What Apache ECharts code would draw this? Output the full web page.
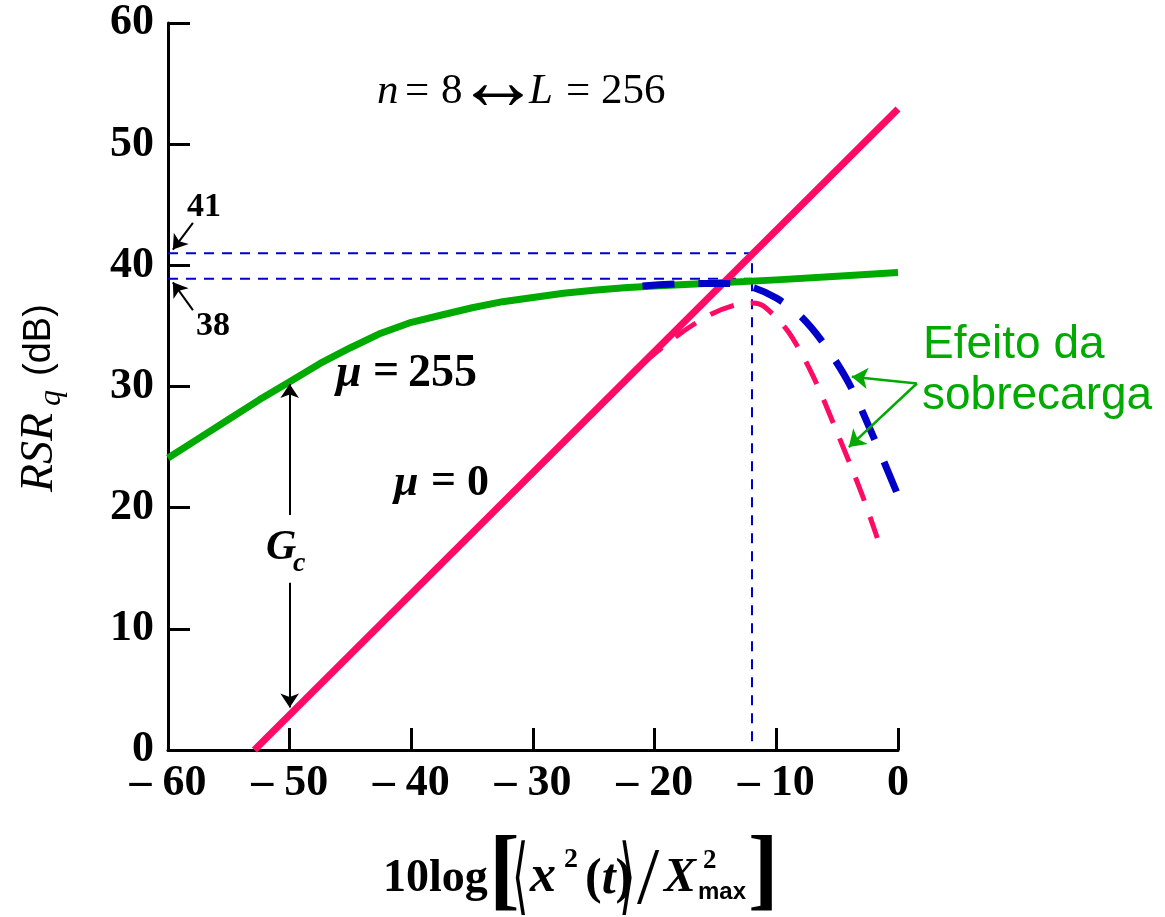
<!DOCTYPE html>
<html><head><meta charset="utf-8">
<script src="https://cdn.jsdelivr.net/npm/echarts@6/dist/echarts.min.js"></script>
<style>html,body{margin:0;padding:0;background:#fff}#c{width:1165px;height:917px}</style>
</head><body><div id="c"></div>
<script>
// ---- data ----
const xTicks = [-60, -50, -40, -30, -20, -10, 0];
const xTickLabels = ['– 60', '– 50', '– 40', '– 30', '– 20', '– 10', '0'];
const yTicks = [0, 10, 20, 30, 40, 50, 60];
const yTickLabels = ['0', '10', '20', '30', '40', '50', '60'];

const mu0X = [-52.9, 0];
const mu0Y = [0, 52.9];

const mu255X = [-60, -57.5, -55, -52.5, -50, -47.5, -45, -42.5, -40, -37.5, -35, -32.5, -30, -27.5, -25, -22.5, -20, -15, -10, -5, 0];
const mu255Y = [24.1, 25.7, 27.3, 28.9, 30.4, 31.9, 33.2, 34.4, 35.3, 35.9, 36.5, 37.0, 37.35, 37.7, 37.95, 38.15, 38.3, 38.55, 38.8, 39.1, 39.4];

const overBlueX = [-21, -17, -14, -12, -10, -8, -6, -4, -2, 0];
const overBlueY = [38.3, 38.5, 38.5, 38.2, 37.3, 35.8, 33.4, 30.2, 25.8, 21.0];

const overPinkX = [-21, -18, -15.5, -13.5, -12, -11, -9, -7, -5, -3, -1.7];
const overPinkY = [31.9, 34.3, 35.9, 36.7, 36.9, 36.6, 34.5, 30.9, 26.2, 21.2, 17.5];

const refX = [-60, -12];
const ref41 = 41;
const ref38 = 38.9;

// annotation arrows [from, to]
const arrow41 = [[-57.95, 43.5], [-59.6, 41.3]];
const arrow38 = [[-57.95, 36.3], [-59.6, 38.6]];
const gcUp = [[-50, 19.4], [-50, 30.2]];
const gcDown = [[-50, 13.8], [-50, 3.5]];
const effArrow1 = [[1.55, 30.25], [-3.8, 30.8]];
const effArrow2 = [[1.55, 30.25], [-4.04, 25.0]];

// ---- chart ----
const zip = (xs, ys) => xs.map((x, i) => [x, ys[i]]);
const serif = '"Liberation Serif","Times New Roman",serif';
const sans = '"Liberation Sans",Arial,sans-serif';
const PINK = '#ff0a64', GREEN = '#00aa00', BLUE = '#0000c8', REF = '#0000cc';

const chart = echarts.init(document.getElementById('c'));

function txt(x, y, text, font, opts) {
  return Object.assign({
    type: 'text', x: x, y: y, z: 100,
    style: Object.assign({ text: text, font: font, fill: '#000', align: 'left', verticalAlign: 'middle' }, (opts && opts.style) || {})
  }, (opts && opts.el) || {});
}

const option = {
  animation: false,
  grid: { left: 168, right: 267, top: 23, bottom: 167, containLabel: false },
  xAxis: {
    type: 'value', min: -60, max: 0, interval: 10,
    axisLine: { onZero: false, lineStyle: { color: '#000', width: 3 } },
    axisTick: { inside: true, length: 22, lineStyle: { color: '#000', width: 3 } },
    axisLabel: {
      color: '#000', fontFamily: serif, fontWeight: 'bold', fontSize: 44, margin: 12,
      formatter: v => { const i = xTicks.indexOf(v); return i >= 0 ? xTickLabels[i] : ''; }
    },
    splitLine: { show: false }
  },
  yAxis: {
    type: 'value', min: 0, max: 60, interval: 10,
    axisLine: { show: true, onZero: false, lineStyle: { color: '#000', width: 3 } },
    axisTick: { show: true, inside: true, length: 22, lineStyle: { color: '#000', width: 3 } },
    axisLabel: {
      color: '#000', fontFamily: serif, fontWeight: 'bold', fontSize: 44, margin: 14,
      formatter: v => { const i = yTicks.indexOf(v); return i >= 0 ? yTickLabels[i] : ''; }
    },
    splitLine: { show: false }
  },
  series: [
    { type: 'line', data: [[refX[0], ref41], [refX[1], ref41], [refX[1], 0]], showSymbol: false, symbol: 'none',
      lineStyle: { color: REF, width: 2, type: [10, 8] }, z: 1 },
    { type: 'line', data: [[refX[0], ref38], [refX[1], ref38]], showSymbol: false, symbol: 'none',
      lineStyle: { color: REF, width: 2, type: [10, 8] }, z: 1 },
    { type: 'line', data: zip(mu255X, mu255Y), smooth: false, showSymbol: false, symbol: 'none',
      lineStyle: { color: GREEN, width: 7, join: 'round', cap: 'butt' }, z: 2 },
    { type: 'line', data: zip(mu0X, mu0Y), showSymbol: false, symbol: 'none',
      lineStyle: { color: PINK, width: 7 }, z: 3 },
    { type: 'line', data: zip(overPinkX, overPinkY), smooth: 0.3, showSymbol: false, symbol: 'none',
      lineStyle: { color: PINK, width: 5, type: [25, 17] }, z: 4 },
    { type: 'line', data: zip(overBlueX, overBlueY), smooth: 0.3, showSymbol: false, symbol: 'none',
      lineStyle: { color: BLUE, width: 7, type: [32, 24] }, z: 5 },
    { type: 'lines', coordinateSystem: 'cartesian2d', clip: false, z: 6,
      symbol: ['none', 'arrow'], symbolSize: [9, 14],
      lineStyle: { color: '#000', width: 2, opacity: 1, curveness: 0 },
      data: [{ coords: arrow41 }, { coords: arrow38 }, { coords: gcUp }, { coords: gcDown }] },
    { type: 'lines', coordinateSystem: 'cartesian2d', clip: false, z: 6,
      symbol: ['none', 'arrow'], symbolSize: [10, 16],
      lineStyle: { color: GREEN, width: 2.5, opacity: 1, curveness: 0 },
      data: [{ coords: effArrow1 }, { coords: effArrow2 }] }
  ],
  graphic: [
    // top annotation: n = 8 <-> L = 256
    txt(377, 92, 'n', 'italic 43px ' + serif),
    txt(405, 92, '=', '43px ' + serif),
    txt(441, 92, '8', '43px ' + serif),
    txt(456, 87, '↔', '84px ' + serif),
    txt(529, 92, 'L', 'italic 43px ' + serif),
    txt(566, 92, '=', '43px ' + serif),
    txt(601, 92, '256', '43px ' + serif),
    txt(204, 207, '41', 'bold 34px ' + serif, { style: { align: 'center' } }),
    txt(213, 326, '38', 'bold 34px ' + serif, { style: { align: 'center' } }),
    // mu labels
    txt(336, 374, 'μ', 'italic bold 46px ' + serif),
    txt(373, 372, '=', 'bold 46px ' + serif),
    txt(408, 374, '255', 'bold 46px ' + serif),
    txt(394, 484, 'μ', 'italic bold 44px ' + serif),
    txt(431, 482, '=', 'bold 44px ' + serif),
    txt(467, 484, '0', 'bold 44px ' + serif),
    txt(266, 548, 'G', 'italic bold 42px ' + serif),
    txt(293, 564, 'c', 'italic bold 28px ' + serif),
    txt(923, 345, 'Efeito da', '46px ' + sans, { style: { fill: GREEN } }),
    txt(922, 396, 'sobrecarga', '46px ' + sans, { style: { fill: GREEN } }),
    // y-axis title (rotated group)
    { type: 'group', x: 40, y: 492, rotation: Math.PI / 2, z: 100, children: [
      txt(0, 0, 'RSR', 'italic 46px ' + serif),
      txt(86, 12, 'q', 'italic 32px ' + serif),
      txt(116, 0, '(dB)', '38px ' + sans)
    ] },
    // x-axis title
    { type: 'group', x: 0, y: 0, z: 100, children: [
      txt(383, 879, '10log', 'bold 46px ' + serif),
      txt(489, 874, '[', 'bold 92px ' + serif),
      txt(512, 882, '⟨', '84px "DejaVu Sans"', { el: { scaleX: 0.5 } }),
      txt(530, 878, 'x', 'italic bold 52px ' + serif),
      txt(564, 860, '2', 'bold 28px ' + serif),
      { type: 'text', x: 585, y: 880, z: 100, style: {
        text: '({t|t})', font: 'bold 50px ' + serif, fill: '#000', verticalAlign: 'middle',
        rich: { t: { fontStyle: 'italic', fontWeight: 'bold', fontSize: 50, fontFamily: serif } } } },
      txt(619, 882, '⟩', '84px "DejaVu Sans"', { el: { scaleX: 0.5 } }),
      txt(637, 882, '/', '80px ' + serif),
      txt(664, 879, 'X', 'italic bold 48px ' + serif),
      txt(703, 861, '2', 'bold 27px ' + serif),
      txt(698, 892, 'max', 'bold 24px ' + sans),
      txt(748, 874, ']', 'bold 92px ' + serif)
    ] }
  ]
};
chart.setOption(option);
</script>
</body></html>
